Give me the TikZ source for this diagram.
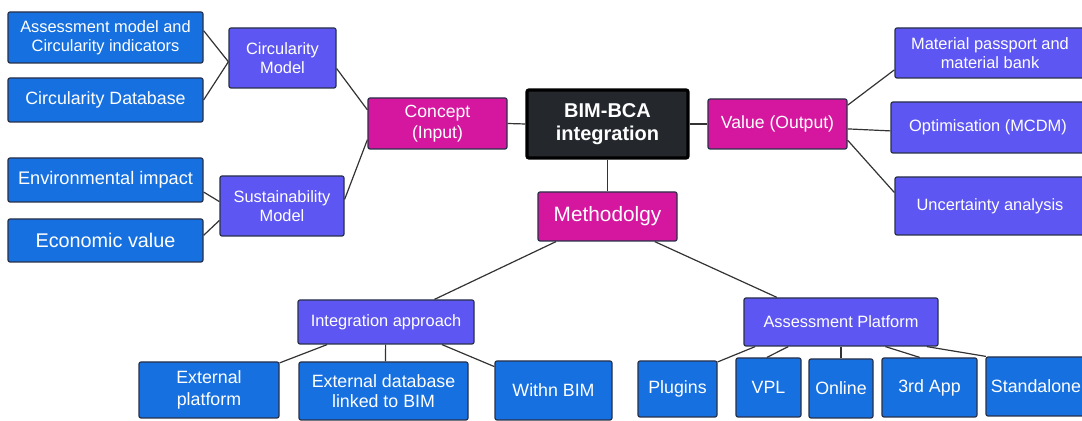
\documentclass[tikz,border=0pt]{standalone}
\usepackage{fontspec}
\setmainfont{Liberation Sans}
\definecolor{leafblue}{HTML}{1670E0}
\definecolor{branchviolet}{HTML}{5D56F2}
\definecolor{hubmagenta}{HTML}{D517A0}
\definecolor{coregrey}{HTML}{24282D}
\definecolor{boxrim}{HTML}{283048}
\definecolor{linkgrey}{HTML}{333333}
\newcommand{\fsz}[2]{\fontsize{#1}{#2}\selectfont}

\begin{document}
\begin{tikzpicture}[x=0.5pt, y=-0.5pt,
every node/.style={%anchor=center,
    inner sep=1pt, align=center, text=white, rounded corners=1pt
    },
boxsize/.style 2 args={minimum width=#1*0.5pt, minimum height=#2*0.5pt},
leaf/.style={draw=boxrim, line width=0.6pt, fill=leafblue, font=\fsz{8.9}{10.8}},
branch/.style={draw=boxrim, line width=0.6pt, fill=branchviolet, font=\fsz{8.2}{9.4}},
hub/.style={draw=boxrim, line width=0.6pt, fill=hubmagenta, font=\fsz{8.8}{10.8}},
core/.style={draw=black, line width=1.6pt, fill=coregrey, font=\bfseries\fsz{10}{11.7}}
]
\useasboundingbox (0,0) rectangle (1082,421);

% concept side
\node[leaf, boxsize={195}{51}, font=\fsz{8.2}{9.7}] (am) at (105.5,37.5) {Assessment model and\\Circularity indicators};
\node[leaf, boxsize={195}{44}] (cdb) at (105.5,100) {Circularity Database};
\node[leaf, boxsize={195}{44}, font=\fsz{9.1}{11}] (env) at (105.5,180) {Environmental impact};
\node[leaf, boxsize={195}{43}, font=\fsz{9.9}{12}] (eco) at (105.5,240.5) {Economic value};
\node[branch, boxsize={107}{60}] (cm) at (282.5,58) {Circularity\\Model};
\node[branch, boxsize={124}{60}] (sm) at (282,206) {Sustainability\\Model};

% centre
\node[hub, boxsize={139}{51}] (concept) at (437.5,123.5) {Concept\\(Input)};
\node[core, boxsize={161}{68}] (bim) at (607.5,124) {BIM-BCA\\integration};
\node[hub, boxsize={139}{50}] (value) at (777.5,124) {Value (Output)};
\node[hub, boxsize={139}{49}, font=\fsz{10.4}{12}] (meth) at (607.5,216.5) {Methodolgy};

% value side
\node[branch, boxsize={190}{50}] (mp) at (990,53) {Material passport and\\material bank};
\node[branch, boxsize={194}{51}] (opt) at (988,127.5) {Optimisation (MCDM)};
\node[branch, boxsize={190}{58}] (unc) at (990,206) {Uncertainty analysis};

% methodology side
\node[branch, boxsize={176}{44}] (ia) at (386,322) {Integration approach};
\node[branch, boxsize={194}{48}] (ap) at (841,322) {Assessment Platform};
\node[leaf, boxsize={140}{56}] (ep) at (209,390) {External\\platform};
\node[leaf, boxsize={169}{58}, font=\fsz{8.9}{9.7}] (ed) at (383.5,391) {External database\\linked to BIM};
\node[leaf, boxsize={117}{59}] (wb) at (553.5,390.5) {Withn BIM};
\node[leaf, boxsize={79}{56}] (plug) at (677.5,389) {Plugins};
\node[leaf, boxsize={65}{59}] (vpl) at (768.5,387.5) {VPL};
\node[leaf, boxsize={64}{59}] (onl) at (841,388.5) {Online};
\node[leaf, boxsize={95}{59}] (app) at (929.5,387.5) {3rd App};
\node[leaf, boxsize={100}{59}] (std) at (1036,386.5) {Standalone};

\foreach \i/\j in {
                  am.4/cm.184, cdb.east/cm.184,%
                  env.-7/sm.176, eco.3/sm.193,%
                  cm.-11/concept.169, sm.6/concept.193,%
                  concept.east/bim.west, bim.east/value.west, bim.south/meth.north,%
                  value.15/mp.190, value.-4/opt.182, value.-13/unc.172,%
                  meth.206/ia.25, meth.-28/ap.159,%
                  ia.201/ep.21, ia.269/ed.86, ia.-22/wb.158,%
                  ap.196/plug.34, ap.205/vpl.93, ap.south/onl.north,
                  ap.-29/app.108, ap.-16/std.149%
            }
    \draw [linkgrey, line width=0.6pt] (\i) -- (\j);

\end{tikzpicture}
\end{document}
